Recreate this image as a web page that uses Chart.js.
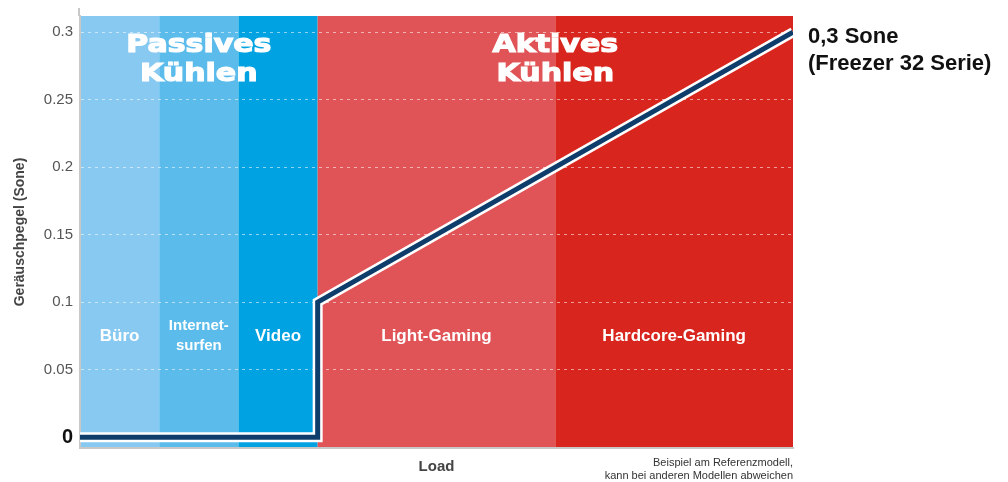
<!DOCTYPE html>
<html>
<head>
<meta charset="utf-8">
<script src="https://cdn.jsdelivr.net/npm/chart.js@4.4.1/dist/chart.umd.min.js"></script>
<style>
  body { margin: 0; background: #fff; }
  #wrap { width: 1008px; height: 482px; }
</style>
</head>
<body>
<div id="wrap"><canvas id="noiseChart"></canvas></div>
<script>
// load stages along the x axis (0..9)
const stageNames = ["Büro", "Internet-\nsurfen", "Video", "Light-Gaming", "Hardcore-Gaming"];
const stageFrom = [0, 1, 2, 3, 6];
const stageTo = [1, 2, 3, 6, 9];
const stageColors = ["#88c9f1", "#5bbbeb", "#00a2e1", "#e05457", "#d8251d"];

const modeNames = ["Passives\nKühlen", "Aktives\nKühlen"];
const modeFrom = [0, 3];
const modeTo = [3, 9];

// noise curve
const loadValues = [0, 3, 3, 9];
const soneValues = [0, 0, 0.1, 0.3];

const yTickValues = [0, 0.05, 0.1, 0.15, 0.2, 0.25, 0.3];
const endLabel = ["0,3 Sone", "(Freezer 32 Serie)"];
const footNote = ["Beispiel am Referenzmodell,", "kann bei anderen Modellen abweichen"];

const curve = loadValues.map((v, i) => ({ x: v, y: soneValues[i] }));

const bandPlugin = {
  id: 'bands',
  beforeDraw(chart) {
    const { ctx, chartArea, scales: { x } } = chart;
    ctx.save();
    for (let i = 0; i < stageNames.length; i++) {
      const x1 = x.getPixelForValue(stageFrom[i]);
      const x2 = x.getPixelForValue(stageTo[i]);
      ctx.fillStyle = stageColors[i];
      ctx.fillRect(x1, chartArea.top, x2 - x1, chartArea.bottom - chartArea.top);
    }
    // axis line sticks out a little above the plot
    ctx.strokeStyle = '#c8c8c8';
    ctx.lineWidth = 2;
    ctx.beginPath();
    ctx.moveTo(chartArea.left - 1, chartArea.top - 8);
    ctx.lineTo(chartArea.left - 1, chartArea.top);
    ctx.stroke();
    ctx.restore();
  },
  afterDraw(chart) {
    const { ctx, chartArea, scales: { x, y } } = chart;
    ctx.save();
    ctx.fillStyle = '#fff';
    ctx.textAlign = 'center';
    ctx.textBaseline = 'middle';

    // stage names
    const labelY = y.getPixelForValue(0.075);
    stageNames.forEach((name, i) => {
      const cx = x.getPixelForValue((stageFrom[i] + stageTo[i]) / 2);
      const lines = name.split('\n');
      ctx.font = lines.length > 1 ? 'bold 15px "Liberation Sans"' : 'bold 17px "Liberation Sans"';
      lines.forEach((t, k) => ctx.fillText(t, cx, labelY + (k - (lines.length - 1) / 2) * 20));
    });

    // cooling modes, wide heavy lettering
    ctx.font = 'bold 25px "DejaVu Sans"';
    ctx.strokeStyle = '#fff';
    ctx.lineWidth = 1.2;
    modeNames.forEach((name, i) => {
      const cx = x.getPixelForValue((modeFrom[i] + modeTo[i]) / 2);
      name.split('\n').forEach((t, k) => {
        ctx.save();
        ctx.translate(cx, chartArea.top + 29 + k * 29);
        ctx.scale(1.2, 1);
        ctx.fillText(t, 0, 0);
        ctx.strokeText(t, 0, 0);
        ctx.restore();
      });
    });

    // value at the end of the curve
    ctx.fillStyle = '#111';
    ctx.textAlign = 'left';
    ctx.font = 'bold 22px "Liberation Sans"';
    const ex = chartArea.right + 15;
    const ey = y.getPixelForValue(soneValues[soneValues.length - 1]);
    endLabel.forEach((t, k) => ctx.fillText(t, ex, ey + 5 + k * 27));

    // footnote
    ctx.fillStyle = '#333';
    ctx.textAlign = 'right';
    ctx.font = '11px "Liberation Sans"';
    footNote.forEach((t, k) => ctx.fillText(t, chartArea.right, chartArea.bottom + 15 + k * 13));
    ctx.restore();
  }
};

new Chart(document.getElementById('noiseChart'), {
  type: 'line',
  data: {
    datasets: [
      {
        data: curve,
        borderColor: '#0e3d6b',
        borderWidth: 5,
        pointRadius: 0,
        tension: 0,
        borderJoinStyle: 'miter',
        order: 0
      },
      {
        data: curve,
        borderColor: '#ffffff',
        borderWidth: 10,
        pointRadius: 0,
        tension: 0,
        borderJoinStyle: 'miter',
        order: 1
      }
    ]
  },
  options: {
    responsive: true,
    maintainAspectRatio: false,
    animation: false,
    layout: { padding: { top: 16, right: 215, left: 0, bottom: 0 } },
    plugins: { legend: { display: false }, tooltip: { enabled: false } },
    scales: {
      x: {
        type: 'linear',
        min: 0,
        max: 9,
        afterFit(scale) { scale.height = 34; },
        ticks: { display: false },
        grid: { display: false, drawTicks: false },
        border: { display: true, color: '#c8c8c8', width: 2 },
        title: {
          display: true,
          text: 'Load',
          color: '#444',
          font: { family: 'Liberation Sans', size: 15, weight: 'bold' },
          padding: { top: 0, bottom: 6 }
        }
      },
      y: {
        min: -0.008,
        max: 0.312,
        afterFit(scale) { scale.width = 80; },
        afterBuildTicks(scale) { scale.ticks = yTickValues.map(v => ({ value: v })); },
        ticks: {
          padding: 7,
          callback: v => String(Math.round(v * 100) / 100),
          color: c => c.tick && c.tick.value === 0 ? '#111' : '#555',
          font: c => c.tick && c.tick.value === 0
            ? { family: 'Liberation Sans', size: 20, weight: 'bold' }
            : { family: 'Liberation Sans', size: 15 }
        },
        grid: {
          drawTicks: false,
          color: c => c.tick && c.tick.value === 0 ? 'rgba(0,0,0,0)' : 'rgba(255,255,255,0.55)',
          lineWidth: 1
        },
        border: { display: true, color: '#c8c8c8', width: 2, dash: [3, 4] },
        title: {
          display: true,
          text: 'Geräuschpegel (Sone)',
          color: '#444',
          font: { family: 'Liberation Sans', size: 14, weight: 'bold' },
          padding: { top: 12, bottom: 0 }
        }
      }
    }
  },
  plugins: [bandPlugin]
});
</script>
</body>
</html>
